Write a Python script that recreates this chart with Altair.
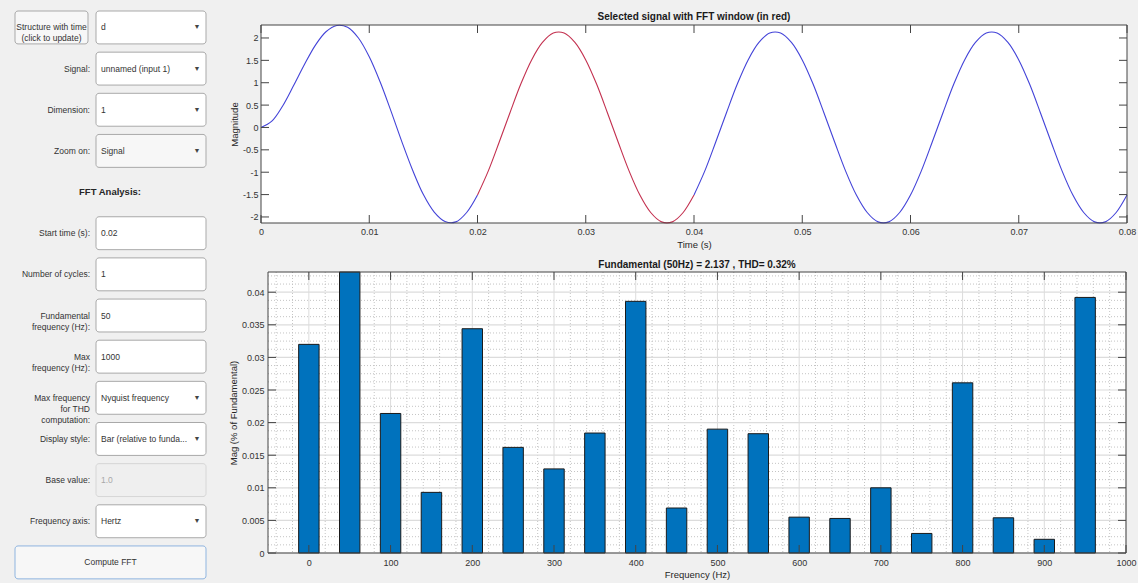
import altair as alt
import pandas as pd

# ---------------- data ----------------
# selected signal, sampled every 1 ms (values read from the picture)
time_ms = list(range(81))
magnitude = [
    0.00, 0.14, 0.48, 0.93, 1.40, 1.83, 2.14, 2.28, 2.24, 2.00,
    1.58, 1.02, 0.37, -0.31, -0.95, -1.50, -1.89, -2.10, -2.11, -1.90,
    -1.51, -0.97, -0.33, 0.33, 0.97, 1.51, 1.90, 2.11, 2.11, 1.90,
    1.51, 0.97, 0.33, -0.33, -0.97, -1.51, -1.90, -2.11, -2.11, -1.90,
    -1.51, -0.97, -0.33, 0.33, 0.97, 1.51, 1.90, 2.11, 2.11, 1.90,
    1.51, 0.97, 0.33, -0.33, -0.97, -1.51, -1.90, -2.11, -2.11, -1.90,
    -1.51, -0.97, -0.33, 0.33, 0.97, 1.51, 1.90, 2.11, 2.11, 1.90,
    1.51, 0.97, 0.33, -0.33, -0.97, -1.51, -1.90, -2.11, -2.11, -1.90,
    -1.51,
]
window_ms = [20, 40]
time_ticks = [0, 0.01, 0.02, 0.03, 0.04, 0.05, 0.06, 0.07, 0.08]
mag_ticks = [-2, -1.5, -1, -0.5, 0, 0.5, 1, 1.5, 2]

# FFT bars (% of fundamental); the 50 Hz fundamental runs off the top
freq_hz = [0, 50, 100, 150, 200, 250, 300, 350, 400, 450,
           500, 550, 600, 650, 700, 750, 800, 850, 900, 950]
mag_pct = [0.0320, 100.0, 0.0214, 0.0093, 0.0344, 0.0162, 0.0129, 0.0184, 0.0386, 0.0069,
           0.0190, 0.0183, 0.0055, 0.0053, 0.0100, 0.0030, 0.0261, 0.0054, 0.0021, 0.0392]
freq_ticks = [0, 100, 200, 300, 400, 500, 600, 700, 800, 900, 1000]
pct_ticks = [0, 0.005, 0.01, 0.015, 0.02, 0.025, 0.03, 0.035, 0.04]
freq_minor = [f for f in range(-40, 1001, 20) if f % 100 != 0]
pct_minor = [round(k * 0.00125, 5) for k in range(1, 35) if k % 4 != 0]

# left-hand control panel
ui_rows = list(range(14))
ui_labels = ["", "Signal:", "Dimension:", "Zoom on:", "", "Start time (s):",
             "Number of cycles:", "Fundamental\nfrequency (Hz):", "Max\nfrequency (Hz):",
             "Max frequency\nfor THD\ncomputation:", "Display style:", "Base value:",
             "Frequency axis:", ""]
ui_values = ["d", "unnamed (input 1)", "1", "Signal", "", "0.02", "1", "50", "1000",
             "Nyquist frequency", "Bar (relative to funda...", "1.0", "Hertz", ""]
ui_kinds = ["dropdown", "dropdown", "dropdown", "dropdown_gray", "header", "edit", "edit",
            "edit", "edit", "dropdown", "dropdown", "disabled", "dropdown", "none"]
header_text = "FFT Analysis:"
header_row = 4
struct_button = "Structure with time\n(click to update)"
compute_button = "Compute FFT"
compute_row = 13

top_title = "Selected signal with FFT window (in red)"
bottom_title = "Fundamental (50Hz) = 2.137 , THD= 0.32%"

# ---------------- layout / styles ----------------
W, H = 1138, 583
FONT = "Liberation Sans"
AX = "#333333"
FRAME = "#444444"
BLUE = "#4343d8"
RED = "#c3304f"
BAR = "#0072BD"
TICK = 8
T_X0, T_X1, T_Y0, T_Y1 = 261, 1127, 25, 223      # top plot area
B_X0, B_X1, B_Y0, B_Y1 = 268, 1126, 272, 553     # bottom plot area
ROW_Y0, ROW_STEP = 11, 41.15                     # control rows


def axis_style(**kw):
    base = dict(ticks=False, domain=False, grid=False, labelFontSize=9, labelColor=AX,
                labelFont=FONT, titleFont=FONT, titleFontSize=9.5, titleFontWeight="normal",
                titleColor="#262626", labelFlush=False, labelOverlap=False, labelBound=False,
                labelExpr="toString(datum.value)")
    base.update(kw)
    return alt.Axis(**base)


ONE = pd.DataFrame({"k": [0]})


def panel_rect(x0, x1, y0, y1, **mk):
    return alt.Chart(ONE).mark_rect(**mk).encode(
        x=alt.value(x0), x2=alt.value(x1), y=alt.value(y0), y2=alt.value(y1))


def tick_layers(xvals, yvals, xs, ys, xa, ya, x0, x1, y0, y1):
    xd = pd.DataFrame({"v": xvals})
    yd = pd.DataFrame({"v": yvals})
    r = dict(color=FRAME, strokeWidth=1)
    xb = alt.Chart(xd).mark_rule(**r).encode(
        x=alt.X("v:Q", scale=xs, axis=xa), y=alt.value(y1), y2=alt.value(y1 - TICK))
    xt = alt.Chart(xd).mark_rule(**r).encode(
        x=alt.X("v:Q", scale=xs, axis=xa), y=alt.value(y0), y2=alt.value(y0 + TICK))
    yl = alt.Chart(yd).mark_rule(**r).encode(
        y=alt.Y("v:Q", scale=ys, axis=ya), x=alt.value(x0), x2=alt.value(x0 + TICK))
    yr = alt.Chart(yd).mark_rule(**r).encode(
        y=alt.Y("v:Q", scale=ys, axis=ya), x=alt.value(x1), x2=alt.value(x1 - TICK))
    return [xb, xt, yl, yr]


def title_mark(text, x, y):
    return alt.Chart(pd.DataFrame({"t": [text]})).mark_text(
        font=FONT, fontSize=10, fontWeight="bold", color="#1a1a1a",
        align="center", baseline="middle").encode(
        x=alt.value(x), y=alt.value(y), text="t:N")


# ---------------- top: time signal ----------------
sig_rows = []
for t, m in zip(time_ms, magnitude):
    if t <= window_ms[0]:
        sig_rows.append({"v": t / 1000, "m": m, "seg": "before"})
    if window_ms[0] <= t <= window_ms[1]:
        sig_rows.append({"v": t / 1000, "m": m, "seg": "window"})
    if t >= window_ms[1]:
        sig_rows.append({"v": t / 1000, "m": m, "seg": "after"})
sig = pd.DataFrame(sig_rows)

tx = alt.Scale(domain=[0, 0.08], range=[T_X0, T_X1], nice=False, zero=False)
ty = alt.Scale(domain=[-2.135, 2.29], range=[T_Y1, T_Y0], nice=False, zero=False)
tx_axis = axis_style(values=time_ticks, title="Time (s)", orient="bottom",
                     offset=T_Y1 - H, labelPadding=4, titlePadding=3)
ty_axis = axis_style(values=mag_ticks, title="Magnitude", orient="left",
                     offset=-T_X0, labelPadding=3, titlePadding=3)

line = alt.Chart(sig).mark_line(strokeWidth=1.1, interpolate="catmull-rom").encode(
    x=alt.X("v:Q", scale=tx, axis=tx_axis),
    y=alt.Y("m:Q", scale=ty, axis=ty_axis),
    color=alt.Color("seg:N", scale=alt.Scale(domain=["before", "window", "after"],
                                             range=[BLUE, RED, BLUE]), legend=None),
)
top = alt.layer(
    panel_rect(T_X0, T_X1, T_Y0, T_Y1, fill="white"),
    line,
    *tick_layers(time_ticks, mag_ticks, tx, ty, tx_axis, ty_axis, T_X0, T_X1, T_Y0, T_Y1),
    panel_rect(T_X0, T_X1, T_Y0, T_Y1, fillOpacity=0, stroke=FRAME, strokeWidth=1),
    title_mark(top_title, (T_X0 + T_X1) / 2, 17),
)

# ---------------- bottom: FFT bars ----------------
bars_df = pd.DataFrame({"f": freq_hz, "p": mag_pct})
bx = alt.Scale(domain=[-50, 1000], range=[B_X0, B_X1], nice=False, zero=False)
by = alt.Scale(domain=[0, 0.0431], range=[B_Y1, B_Y0], nice=False, zero=False, clamp=True)
bx_axis = axis_style(values=freq_ticks, title="Frequency (Hz)", orient="bottom",
                     offset=B_Y1 - H, labelPadding=5, titlePadding=2)
by_axis = axis_style(values=pct_ticks, title="Mag (% of Fundamental)", orient="left",
                     offset=-B_X0, labelPadding=4, titlePadding=3)

minor_x = alt.Chart(pd.DataFrame({"v": freq_minor})).mark_rule(
    color="#c4c4c4", strokeWidth=1, strokeDash=[1, 2]).encode(
    x=alt.X("v:Q", scale=bx, axis=bx_axis), y=alt.value(B_Y0), y2=alt.value(B_Y1))
minor_y = alt.Chart(pd.DataFrame({"v": pct_minor})).mark_rule(
    color="#c4c4c4", strokeWidth=1, strokeDash=[1, 2]).encode(
    y=alt.Y("v:Q", scale=by, axis=by_axis), x=alt.value(B_X0), x2=alt.value(B_X1))
major_x = alt.Chart(pd.DataFrame({"v": freq_ticks})).mark_rule(
    color="#dcdcdc", strokeWidth=1).encode(
    x=alt.X("v:Q", scale=bx, axis=bx_axis), y=alt.value(B_Y0), y2=alt.value(B_Y1))
major_y = alt.Chart(pd.DataFrame({"v": pct_ticks})).mark_rule(
    color="#dcdcdc", strokeWidth=1.2).encode(
    y=alt.Y("v:Q", scale=by, axis=by_axis), x=alt.value(B_X0), x2=alt.value(B_X1))

bars = alt.Chart(bars_df).transform_calculate(
    v="datum.f - 12.5", v2="datum.f + 12.5").mark_rect(
    fill=BAR, stroke="#1a1a1a", strokeWidth=1).encode(
    x=alt.X("v:Q", scale=bx, axis=bx_axis),
    x2="v2:Q",
    y=alt.Y("p:Q", scale=by, axis=by_axis),
    y2=alt.datum(0),
)
bottom = alt.layer(
    panel_rect(B_X0, B_X1, B_Y0, B_Y1, fill="white"),
    minor_x, minor_y, major_x, major_y, bars,
    *tick_layers(freq_ticks, pct_ticks, bx, by, bx_axis, by_axis, B_X0, B_X1, B_Y0, B_Y1),
    panel_rect(B_X0, B_X1, B_Y0, B_Y1, fillOpacity=0, stroke=FRAME, strokeWidth=1),
    title_mark(bottom_title, (B_X0 + B_X1) / 2, 264.5),
)

# ---------------- left: control panel ----------------
ui = pd.DataFrame({"row": ui_rows, "label": ui_labels, "value": ui_values, "kind": ui_kinds})
ly = alt.Scale(domain=[0, 14], range=[ROW_Y0, ROW_Y0 + 14 * ROW_STEP], nice=False, zero=False)
TXT = dict(font=FONT, fontSize=8.5, color="#333333", baseline="middle")

ui_base = alt.Chart(ui).transform_calculate(
    top="datum.row", bot="datum.row + 0.8", mid="datum.row + 0.4")
box_kinds = ["dropdown", "dropdown_gray", "edit", "disabled"]
boxes = ui_base.transform_filter(
    "indexof(['dropdown','dropdown_gray','edit','disabled'], datum.kind) >= 0"
).mark_rect(cornerRadius=3, strokeWidth=1).encode(
    x=alt.value(96), x2=alt.value(206),
    y=alt.Y("top:Q", scale=ly, axis=None), y2="bot:Q",
    fill=alt.Fill("kind:N", scale=alt.Scale(domain=box_kinds,
                  range=["#ffffff", "#f7f7f7", "#ffffff", "#efefef"]), legend=None),
    stroke=alt.Stroke("kind:N", scale=alt.Scale(domain=box_kinds,
                      range=["#a9a9a9", "#a9a9a9", "#a9a9a9", "#d6d6d6"]), legend=None),
)
labels = ui_base.mark_text(align="right", lineBreak="\n", lineHeight=11, **TXT).encode(
    x=alt.value(90), y=alt.Y("mid:Q", scale=ly, axis=None), text="label:N")
values = ui_base.mark_text(align="left", font=FONT, fontSize=8.5, baseline="middle").encode(
    x=alt.value(101), y=alt.Y("mid:Q", scale=ly, axis=None), text="value:N",
    color=alt.condition("datum.kind == 'disabled'", alt.value("#a8a8a8"), alt.value("#333333")))
arrows = ui_base.transform_filter(
    "datum.kind == 'dropdown' || datum.kind == 'dropdown_gray'"
).mark_text(text="\u25bc", fontSize=7, color="#444444", baseline="middle", align="center").encode(
    x=alt.value(197), y=alt.Y("mid:Q", scale=ly, axis=None))

header = alt.Chart(pd.DataFrame({"row": [header_row], "text": [header_text]})).transform_calculate(
    mid="datum.row + 0.4").mark_text(font=FONT, fontSize=9.5, fontWeight="bold",
                                     color="#262626", baseline="middle", align="center").encode(
    x=alt.value(110), y=alt.Y("mid:Q", scale=ly, axis=None), text="text:N")

btn1_df = pd.DataFrame({"row": [0], "text": [struct_button]})
btn2_df = pd.DataFrame({"row": [compute_row], "text": [compute_button]})


def button(df, x0, x1, border):
    b = alt.Chart(df).transform_calculate(bot="datum.row + 0.8", mid="datum.row + 0.4")
    r = b.mark_rect(cornerRadius=3, fill="#f7f7f7", stroke=border, strokeWidth=1).encode(
        x=alt.value(x0), x2=alt.value(x1),
        y=alt.Y("row:Q", scale=ly, axis=None), y2="bot:Q")
    t = b.mark_text(align="center", lineBreak="\n", lineHeight=11, **TXT).encode(
        x=alt.value((x0 + x1) / 2), y=alt.Y("mid:Q", scale=ly, axis=None), text="text:N")
    return [r, t]


left = alt.layer(boxes, labels, values, arrows, header,
                 *button(btn1_df, 15, 88, "#a9a9a9"),
                 *button(btn2_df, 15, 206, "#8fb5e0"))

chart = alt.layer(left, top, bottom).resolve_scale(
    x="independent", y="independent").resolve_axis(
    x="independent", y="independent").properties(
    width=W, height=H,
    autosize=alt.AutoSizeParams(type="none"),
    view=alt.ViewBackground(fill="transparent", stroke="transparent"),
).configure(background="#f0f0f0", font=FONT, padding=0)

chart.save("out.html", embed_options={"renderer": "svg", "actions": False})
